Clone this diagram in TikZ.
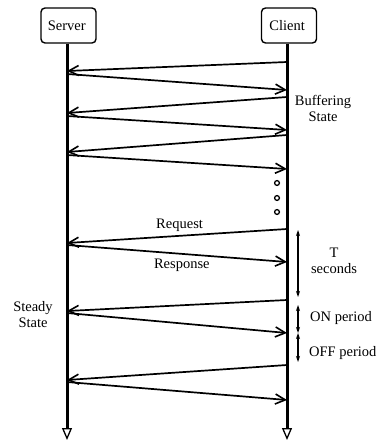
\documentclass[tikz,border=0pt]{standalone}
\usepackage{fontspec}
\setmainfont{Liberation Serif}
\usetikzlibrary{arrows.meta}

\tikzset{
  actor/.style={draw, line width=1.4pt, rounded corners=4pt, minimum width=55pt, minimum height=35pt, inner sep=0pt},
  life/.style={line width=3pt, -{Triangle[open, length=12pt, width=10pt, line width=1.3pt]}},
  msg/.style={line width=1.7pt, -{Straight Barb[length=10pt, width=10pt, line width=1.6pt]}},
  span/.style={line width=1.3pt, {Stealth[length=6pt, width=4pt]}-{Stealth[length=6pt, width=4pt]}},
  lbl/.style={font=\fontsize{14.5}{16}\selectfont, align=center, inner sep=0pt}
}

\begin{document}
\begin{tikzpicture}[x=1pt, y=-1pt]
  \useasboundingbox (0,0) rectangle (377,441);

  \node [actor, lbl] (srv) at (68.5,25.5) { Server };
  \node [actor, lbl] (cli) at (289,25.5) { Client };

  \coordinate (srvend) at (67,440);
  \coordinate (cliend) at (287,440);
  \draw [life] (srv.south -| srvend) -- (srvend);
  \draw [life] (cli.south -| cliend) -- (cliend);

  % buffering state
  \coordinate (c1) at (287,62);  \coordinate (s1) at (67,71);
  \coordinate (s2) at (67,74);   \coordinate (c2) at (287,90);
  \coordinate (c3) at (287,97);  \coordinate (s3) at (67,113);
  \coordinate (s4) at (67,116);  \coordinate (c4) at (287,130);
  \coordinate (c5) at (287,135); \coordinate (s5) at (67,152);
  \coordinate (s6) at (67,155);  \coordinate (c6) at (287,169);

  \draw [msg] (c1) -- (s1);
  \draw [msg] (s2) -- (c2);
  \draw [msg] (c3) -- (s3);
  \draw [msg] (s4) -- (c4);
  \draw [msg] (c5) -- (s5);
  \draw [msg] (s6) -- (c6);

  \node [lbl] (buf) at (323,108) { Buffering\\State };

  \draw [line width=1.3pt] (277,183) circle (2.4pt) (277,198) circle (2.4pt) (277,212) circle (2.4pt);

  % steady state
  \coordinate (c7) at (287,229);  \coordinate (s7) at (67,243);
  \coordinate (s8) at (67,245);   \coordinate (c8) at (287,262);
  \coordinate (c9) at (287,300);  \coordinate (s9) at (67,311);
  \coordinate (s10) at (67,313);  \coordinate (c10) at (287,333);
  \coordinate (c11) at (287,365); \coordinate (s11) at (67,380);
  \coordinate (s12) at (67,382);  \coordinate (c12) at (287,400);

  \draw [msg] (c7) -- (s7) node [lbl, pos=0.48, above=3pt] { Request };
  \draw [msg] (s8) -- (c8) node [lbl, pos=0.53, below=4pt] { Response };
  \draw [msg] (c9) -- (s9);
  \draw [msg] (s10) -- (c10);
  \draw [msg] (c11) -- (s11);
  \draw [msg] (s12) -- (c12);

  \node [lbl] (steady) at (33,315) { Steady\\State };

  \coordinate (t1) at (298,230);  \coordinate (t2) at (298,297);
  \coordinate (on1) at (298,305); \coordinate (on2) at (298,333);
  \coordinate (off2) at (298,362);
  \draw [span] (t1) -- (t2);
  \draw [span] (on1) -- (on2);
  \draw [span] (on2) -- (off2);

  \node [lbl] (tsec) at (334,261) { T\\seconds };
  \node [lbl, anchor=west] (onp) at (310,318) { ON period };
  \node [lbl, anchor=west] (offp) at (309,353) { OFF period };
\end{tikzpicture}
\end{document}
